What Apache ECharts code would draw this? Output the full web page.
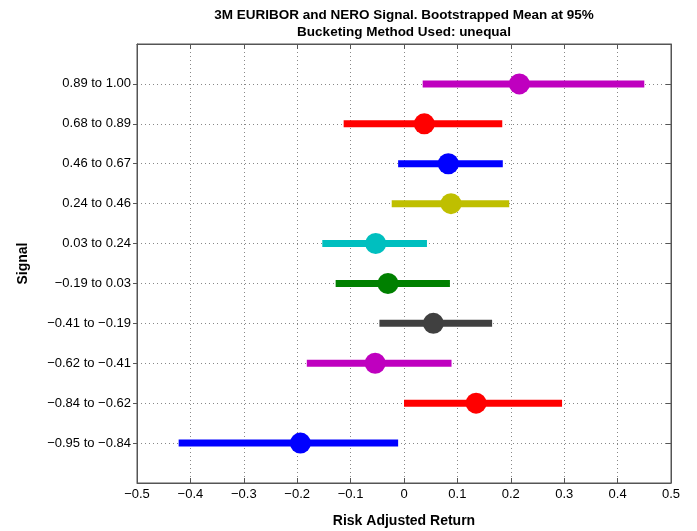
<!DOCTYPE html>
<html><head><meta charset="utf-8">
<script src="https://cdn.jsdelivr.net/npm/echarts@6/dist/echarts.min.js"></script>
<style>html,body{margin:0;padding:0;background:#fff}#c{width:697px;height:531px}</style>
</head><body><div id="c"></div>
<script>
var categories = ['0.89 to 1.00','0.68 to 0.89','0.46 to 0.67','0.24 to 0.46','0.03 to 0.24','\u22120.19 to 0.03','\u22120.41 to \u22120.19','\u22120.62 to \u22120.41','\u22120.84 to \u22120.62','\u22120.95 to \u22120.84'];
var lowValues  = [0.035, -0.113, -0.011, -0.023, -0.153, -0.128, -0.046, -0.182, 0.000, -0.422];
var highValues = [0.450,  0.184,  0.185,  0.197,  0.043,  0.086,  0.165,  0.089, 0.296, -0.011];
var meanValues = [0.216,  0.038,  0.083,  0.088, -0.053, -0.030,  0.055, -0.054, 0.135, -0.194];
var rowColors  = ['#bf00bf','#ff0000','#0000ff','#bfbf00','#00bfbf','#008000','#404040','#bf00bf','#ff0000','#0000ff'];
var rowTicks = [1,2,3,4,5,6,7,8,9,10];

var FONT = '"Liberation Sans", Arial, Helvetica, sans-serif';
var data = categories.map(function(c, i){ return [lowValues[i], highValues[i], meanValues[i], rowTicks[i]]; });

function fmtX(v){
  var r = Math.round(v*10)/10;
  if (r === 0) return '0';
  return (r < 0 ? '\u2212' : '') + Math.abs(r).toFixed(1);
}

var gridLine = {show:true, lineStyle:{color:'#888', type:[1,3], width:1}};
var axLine = {show:true, onZero:false, lineStyle:{color:'#555'}};

var chart = echarts.init(document.getElementById('c'), null, {renderer:'canvas'});
chart.setOption({
  animation:false,
  grid: {left:137, right:26, top:44, bottom:48, show:true, borderColor:'#555', borderWidth:1, backgroundColor:'#fff', containLabel:false, outerBoundsMode:'none'},
  graphic: [
    {type:'text', x:404, y:15, style:{text:'3M EURIBOR and NERO Signal. Bootstrapped Mean at 95%', font:'bold 13.5px '+FONT, fill:'#000', textAlign:'center', textVerticalAlign:'middle'}},
    {type:'text', x:404, y:32, style:{text:'Bucketing Method Used: unequal', font:'bold 13.5px '+FONT, fill:'#000', textAlign:'center', textVerticalAlign:'middle'}}
  ],
  xAxis: [{
    type:'value', min:-0.5, max:0.5, interval:0.1, position:'bottom',
    axisLine:axLine,
    axisTick:{show:true, inside:true, length:5, lineStyle:{color:'#555'}},
    axisLabel:{formatter:fmtX, color:'#000', fontSize:13, fontFamily:FONT, margin:5},
    splitLine: gridLine,
    name:'Risk Adjusted Return', nameLocation:'middle', nameGap:31,
    nameTextStyle:{fontWeight:'bold', fontSize:14, color:'#000', fontFamily:FONT}
  },{
    type:'value', min:-0.5, max:0.5, interval:0.1, position:'top',
    axisLine:axLine,
    axisTick:{show:true, inside:true, length:5, lineStyle:{color:'#555'}},
    axisLabel:{show:false}, splitLine:{show:false}
  }],
  yAxis: [{
    type:'value', min:0, max:11, interval:1, inverse:true, position:'left',
    axisLine:axLine,
    axisTick:{show:true, inside:false, length:4, lineStyle:{color:'#555'}, customValues:rowTicks},
    axisLabel:{color:'#000', fontSize:13, fontFamily:FONT, margin:6,
      customValues:rowTicks,
      formatter:function(v){ return categories[Math.round(v)-1] || ''; }},
    splitLine: gridLine,
    name:'Signal', nameLocation:'middle', nameGap:107, nameRotate:90,
    nameTextStyle:{fontWeight:'bold', fontSize:14, color:'#000', fontFamily:FONT}
  },{
    type:'value', min:0, max:11, interval:1, inverse:true, position:'right',
    axisLine:axLine,
    axisTick:{show:true, inside:true, length:5, lineStyle:{color:'#555'}, customValues:rowTicks},
    axisLabel:{show:false}, splitLine:{show:false}
  }],
  series: [{
    type:'custom',
    xAxisIndex:0, yAxisIndex:0,
    data:data,
    renderItem:function(params, api){
      var lo = api.coord([api.value(0), api.value(3)]);
      var hi = api.coord([api.value(1), api.value(3)]);
      var m  = api.coord([api.value(2), api.value(3)]);
      var col = rowColors[params.dataIndex];
      var h = 7;
      return {type:'group', children:[
        {type:'rect', shape:{x:lo[0], y:lo[1]-h/2, width:hi[0]-lo[0], height:h}, style:{fill:col}},
        {type:'circle', shape:{cx:m[0], cy:m[1], r:10.5}, style:{fill:col}}
      ]};
    }
  }]
});
</script></body></html>
